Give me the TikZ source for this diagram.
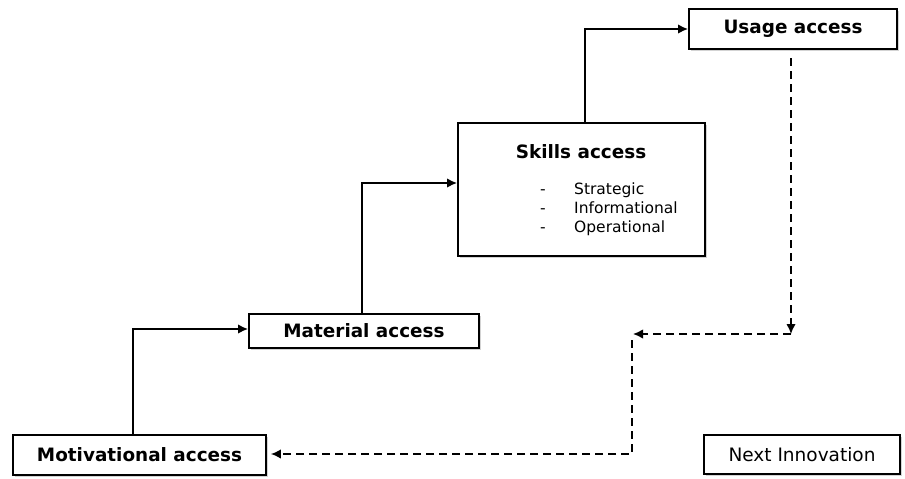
\documentclass[tikz,border=0pt]{standalone}
\usepackage{fontspec}
\setmainfont{DejaVu Sans}
\usetikzlibrary{arrows.meta,shadows}
\tikzset{
  box/.style={draw=black, line width=1.8pt, fill=white, inner sep=0pt,
    drop shadow={opacity=0.35, shadow xshift=2pt, shadow yshift=-2pt}},
  boldlbl/.style={font=\bfseries\fontsize{18.4}{21}\selectfont},
  flow/.style={line width=1.8pt, -{Latex[length=10pt,width=9.5pt]}},
  dflow/.style={line width=1.6pt, dash pattern=on 8pt off 5pt, -{Latex[length=10pt,width=9.5pt]}},
  item/.style={font=\fontsize{15.5}{18}\selectfont, anchor=base west, inner sep=0pt}
}
\begin{document}
\begin{tikzpicture}[x=1pt,y=-1pt]
\useasboundingbox (0,0) rectangle (905,479);
\node[box, boldlbl, minimum width=253pt, minimum height=40pt] (mot) at (139.5,455) {Motivational access};
\node[box, boldlbl, minimum width=230pt, minimum height=34pt] (mat) at (364,331) {Material access};
\node[box, minimum width=247pt, minimum height=133pt] (ski) at (581.5,189.5) {};
\node[boldlbl, inner sep=0pt, anchor=base] (skt) at (581,158) {Skills access};
\node[item] (d1) at (540,194) {-};
\node[item] (d2) at (540,213) {-};
\node[item] (d3) at (540,232) {-};
\node[item] (i1) at (574,194) {Strategic};
\node[item] (i2) at (574,213) {Informational};
\node[item] (i3) at (574,232) {Operational};
\node[box, boldlbl, minimum width=208pt, minimum height=40pt] (use) at (793,29) {Usage access};
\node[box, font=\fontsize{18.5}{21}\selectfont, minimum width=196pt, minimum height=39pt] (nxt) at (802,454.5) {Next Innovation};
\coordinate (c1) at (133,329);
\coordinate (c2) at (362,183);
\coordinate (c3) at (585,29);
\draw[flow] (mot.north -| c1) |- (mat.west |- c1);
\draw[flow] (mat.north -| c2) |- (ski.west |- c2);
\draw[flow] (ski.north -| c3) |- (use.west);
\coordinate (u0) at (791,58);
\coordinate (u1) at (791,334);
\coordinate (l1) at (633,334);
\coordinate (v0) at (632,340);
\coordinate (v1) at (632,454);
\draw[dflow] (u0) -- (u1);
\draw[dflow] (u1) -- (l1);
\draw[dflow] (v0) -- (v1) -- ([xshift=4pt]mot.east |- v1);
\end{tikzpicture}
\end{document}
